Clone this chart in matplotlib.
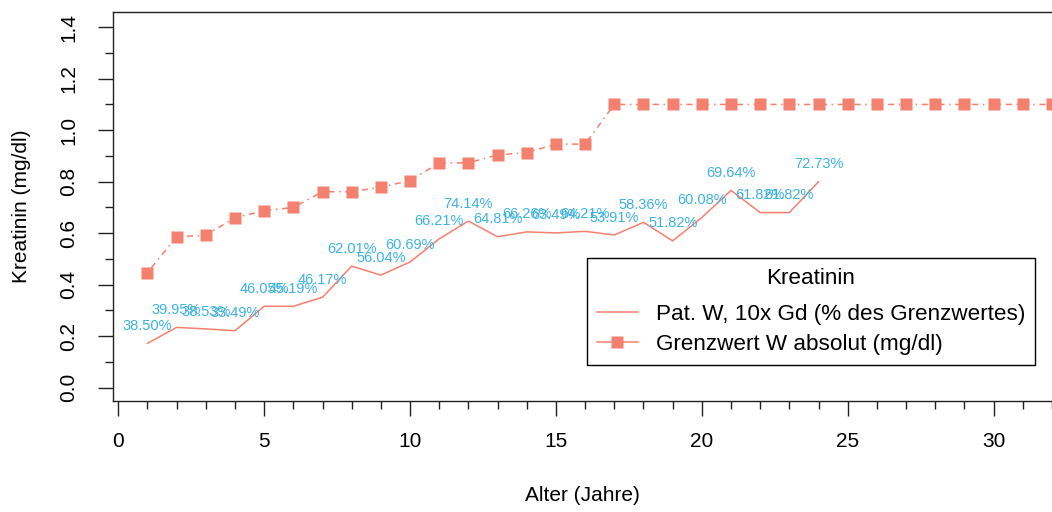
import matplotlib
matplotlib.use("agg")
import matplotlib.pyplot as plt
from matplotlib.lines import Line2D

plt.rcParams['font.family'] = ['Liberation Sans', 'DejaVu Sans']

# Grenzwert (mg/dl) per Lebensjahr
alter = list(range(1, 33))
grenz = [0.447, 0.586, 0.592, 0.660, 0.687, 0.700, 0.761, 0.761, 0.779, 0.804,
         0.873, 0.873, 0.904, 0.913, 0.946, 0.946, 1.10, 1.10, 1.10, 1.10,
         1.10, 1.10, 1.10, 1.10, 1.10, 1.10, 1.10, 1.10, 1.10, 1.10,
         1.10, 1.10]

# Patient W
pat_alter = list(range(1, 25))
pat = [0.172, 0.234, 0.228, 0.221, 0.316, 0.316, 0.351, 0.472, 0.437, 0.488,
       0.578, 0.647, 0.586, 0.605, 0.601, 0.607, 0.593, 0.642, 0.570, 0.661,
       0.766, 0.680, 0.680, 0.800]
pat_labels = ["38.50%", "39.95%", "38.53%", "33.49%", "46.05%", "45.19%", "46.17%",
              "62.01%", "56.04%", "60.69%", "66.21%", "74.14%", "64.81%", "66.26%",
              "63.49%", "64.21%", "53.91%", "58.36%", "51.82%", "60.08%", "69.64%",
              "61.82%", "61.82%", "72.73%"]

salmon = '#F4806F'
cyan = '#3DB3E3'

fig = plt.figure(figsize=(10.52, 5.12), dpi=100)
ax = fig.add_axes([113.3 / 1052, 111 / 512, (1052 - 113.3) / 1052, 388.7 / 512])

ax.plot(pat_alter, pat, color=salmon, lw=1.1)
ax.plot(alter, grenz, color=salmon, lw=1.1, dashes=(1, 3, 4, 3),
        marker='s', ms=8, mec='none')

for x, y, t in zip(pat_alter, pat, pat_labels):
    ax.annotate(t, (x, y), xytext=(0, 7.5), textcoords='offset points',
                ha='center', va='bottom', color=cyan, fontsize=10.5)

ax.set_xlim(-0.17, 31.87)
ax.set_ylim(-0.052, 1.458)
ax.set_xticks(range(0, 31, 5))
ax.set_xticks(range(0, 33), minor=True)
ax.set_yticks([0, 0.2, 0.4, 0.6, 0.8, 1.0, 1.2, 1.4])
ax.set_yticklabels(["0.0", "0.2", "0.4", "0.6", "0.8", "1.0", "1.2", "1.4"],
                   rotation=90, va='center')
ax.set_yticks([0.1, 0.3, 0.5, 0.7, 0.9, 1.1, 1.3], minor=True)
ax.tick_params(which='major', length=10.5, width=1, labelsize=15, color='#222222')
ax.tick_params(axis='x', which='major', pad=11.5)
ax.tick_params(axis='y', which='major', pad=14.5)
ax.tick_params(which='minor', length=5.8, width=1, color='#222222')
ax.spines['right'].set_visible(False)
for s in ['left', 'top', 'bottom']:
    ax.spines[s].set_linewidth(1.0)
    ax.spines[s].set_color('#222222')

ax.set_xlabel("Alter (Jahre)", fontsize=15)
ax.xaxis.set_label_coords(0.5, -0.242)
ax.xaxis.label.set_va('center')
ax.set_ylabel("Kreatinin (mg/dl)", fontsize=15)
ax.yaxis.set_label_coords(-0.098, 0.5)
ax.yaxis.label.set_va('center')

handles = [Line2D([], [], color=salmon, lw=1.1),
           Line2D([], [], color=salmon, lw=1.1, marker='s', ms=8, mec='none')]
leg = ax.legend(handles, ["Pat. W, 10x Gd (% des Grenzwertes)",
                          "Grenzwert W absolut (mg/dl)"],
                title="Kreatinin", loc='upper left', bbox_to_anchor=(0.5046, 0.368),
                fontsize=16.2, title_fontsize=16.2, fancybox=False, framealpha=1,
                edgecolor='black', borderaxespad=0, handlelength=1.8,
                handletextpad=0.8, labelspacing=0.37, borderpad=0.45)
leg.get_frame().set_linewidth(1.0)
leg._legend_box.sep = 11.0

fig.savefig("out.png", dpi=100)
